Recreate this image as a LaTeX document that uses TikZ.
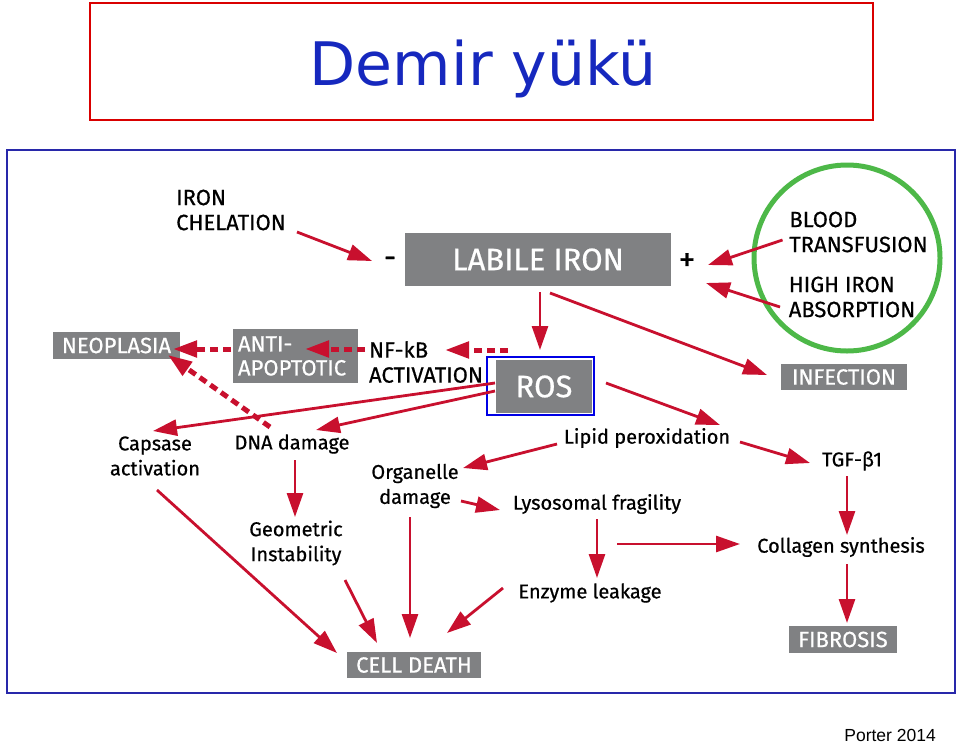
\documentclass[tikz,border=0pt]{standalone}
\usepackage{fontspec}
\usetikzlibrary{arrows.meta}
\newfontfamily\din[FakeBold=0.6]{Fira Sans}
\newfontfamily\ttlfont{DejaVu Sans}
\definecolor{ired}{RGB}{200,16,46}
\definecolor{boxgray}{RGB}{128,129,131}
\definecolor{cgreen}{RGB}{77,184,72}
\definecolor{fblue}{RGB}{40,40,170}
\definecolor{tblue}{RGB}{22,40,190}
\tikzset{
 arr/.style={draw=ired, line width=2.8pt, -{Triangle[length=24pt,width=16pt]}},
 darr/.style={arr, line width=5pt, dash pattern=on 8pt off 5pt},
 gbox/.style={fill=boxgray, text=white, inner sep=0pt, font=\din\fontsize{22}{24}\selectfont},
 lbl/.style={text=black, inner sep=0pt, align=left, font=\din\fontsize{22}{25}\selectfont},
 sml/.style={text=black, inner sep=0pt, align=center, font=\din\fontsize{20}{25}\selectfont},
}
\begin{document}
\begin{tikzpicture}[x=1pt,y=-1pt]
\useasboundingbox (0,0) rectangle (960,745);
% title
\draw[draw=red!85!black, line width=1.5pt] (90,3) rectangle (873,120);
\node[anchor=base, text=tblue, inner sep=0pt, font=\ttlfont\fontsize{60}{60}\selectfont] (title) at (483,85) {Demir yükü};
% frame
\draw[draw=fblue, line width=1.6pt] (7,150) rectangle (955,693);
\node[anchor=base east, inner sep=0pt, font=\fontspec{Liberation Sans}\fontsize{17.5}{17.5}\selectfont] (src) at (936,741) {Porter 2014};
% nodes
\node[lbl] (chel) at (231,210) {IRON\\CHELATION};
\node[lbl, font=\din\fontsize{30}{30}\selectfont] (minus) at (390,262) {-};
\node[gbox, minimum width=266pt, minimum height=53pt, font=\din\fontsize{31}{31}\selectfont] (labile) at (538,259.5) {LABILE IRON};
\node[lbl, font=\din\fontsize{34}{34}\selectfont] (plus) at (687,262) {+};
\node[lbl] (blood) at (858.5,232) {BLOOD\\TRANSFUSION};
\node[lbl] (high) at (852,297) {HIGH IRON\\ABSORPTION};
\draw[draw=cgreen, line width=5pt] (847,258) circle[radius=93];
\node[gbox, minimum width=126pt, minimum height=26pt] (infection) at (844,377) {INFECTION};
\draw[draw=blue!90!black, line width=2pt] (487,357) rectangle (594,415);
\node[gbox, minimum width=96pt, minimum height=53pt, font=\din\fontsize{31}{31}\selectfont] (ros) at (544,386.5) {ROS};
\node[lbl] (nfkb) at (426,362) {NF-kB\\ACTIVATION};
\node[gbox, minimum width=125pt, minimum height=54pt, text width=115pt, align=left] (anti) at (295.5,356) {ANTI-\\APOPTOTIC};
\node[gbox, minimum width=127pt, minimum height=27pt] (neo) at (116.5,345.5) {NEOPLASIA};
\node[sml] (caps) at (155,456) {Capsase\\activation};
\node[sml] (dna) at (292,444) {DNA damage};
\node[sml] (geom) at (296,543) {Geometric\\Instability};
\node[sml] (lipid) at (647,438) {Lipid peroxidation};
\node[sml] (organ) at (415,486) {Organelle\\damage};
\node[sml] (lyso) at (597,504) {Lysosomal fragility};
\node[sml] (enzyme) at (590,593) {Enzyme leakage};
\node[sml] (coll) at (841,547) {Collagen synthesis};
\node[sml] (tgf) at (852,461) {TGF-β1};
\node[gbox, minimum width=108pt, minimum height=27pt] (fib) at (843,639.5) {FIBROSIS};
\node[gbox, minimum width=134pt, minimum height=26pt] (cell) at (414,665) {CELL DEATH};
% arrows
\draw[arr] ([shift={(66,22)}]chel.center) -- ([shift={(-18,-1)}]minus.center);
\draw[arr] ([shift={(-76,8)}]blood.center) -- ([shift={(21,3)}]plus.center);
\draw[arr] ([shift={(-72,10)}]high.center) -- ([shift={(19,21)}]plus.center);
\draw[arr] ([shift={(2,32.5)}]labile.center) -- ([shift={(-4,-36.5)}]ros.center);
\draw[arr] ([shift={(12,33.5)}]labile.center) -- ([shift={(-77,-2)}]infection.center);
\draw[darr] ([shift={(-36,-36.5)}]ros.center) -- ([shift={(19,-12)}]nfkb.center);
\draw[darr] ([shift={(-61,-13)}]nfkb.center) -- ([shift={(9.5,-7)}]anti.center);
\draw[darr] ([shift={(-64.5,-7)}]anti.center) -- ([shift={(56.5,3.5)}]neo.center);
\draw[darr] ([shift={(-22,-17)}]dna.center) -- ([shift={(51.5,9.5)}]neo.center);
\draw[arr] ([shift={(-49,-3.5)}]ros.center) -- ([shift={(-2,-25)}]caps.center);
\draw[arr] ([shift={(-49,4.5)}]ros.center) -- ([shift={(24,-14)}]dna.center);
\draw[arr] ([shift={(3,16)}]dna.center) -- ([shift={(-1,-26)}]geom.center);
\draw[arr] ([shift={(62,-3.5)}]ros.center) -- ([shift={(73,-13)}]lipid.center);
\draw[arr] ([shift={(-90,6)}]lipid.center) -- ([shift={(48,-18)}]organ.center);
\draw[arr] ([shift={(46,15)}]organ.center) -- ([shift={(-97,6)}]lyso.center);
\draw[arr] ([shift={(0,15)}]lyso.center) -- ([shift={(7,-15)}]enzyme.center);
\draw[arr] ([shift={(20,40)}]lyso.center) -- ([shift={(-101,-3)}]coll.center);
\draw[arr] ([shift={(93,4)}]lipid.center) -- ([shift={(-42,2)}]tgf.center);
\draw[arr] ([shift={(-5,15)}]tgf.center) -- ([shift={(6,-12)}]coll.center);
\draw[arr] ([shift={(6,17)}]coll.center) -- ([shift={(4,-16.5)}]fib.center);
\draw[arr] ([shift={(2,34)}]caps.center) -- ([shift={(-77,-12)}]cell.center);
\draw[arr] ([shift={(49,37)}]geom.center) -- ([shift={(-37,-22)}]cell.center);
\draw[arr] ([shift={(-5,31)}]organ.center) -- ([shift={(-4,-27)}]cell.center);
\draw[arr] ([shift={(-87,-5)}]enzyme.center) -- ([shift={(33,-32)}]cell.center);
\end{tikzpicture}
\end{document}
